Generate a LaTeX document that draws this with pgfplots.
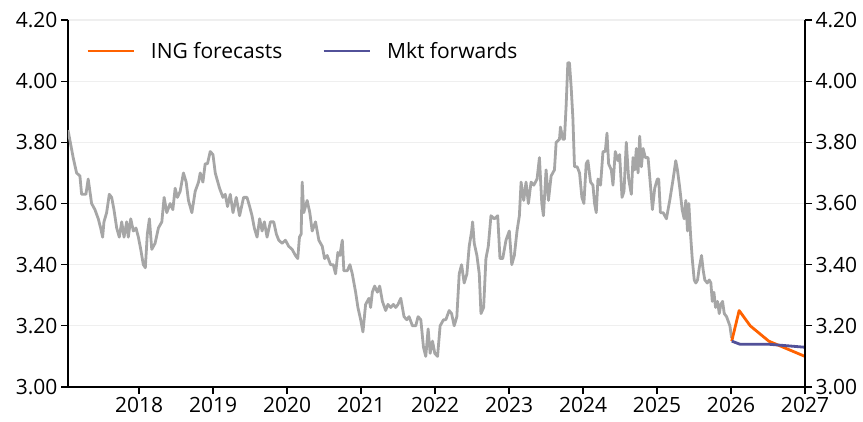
\documentclass[border=0pt]{standalone}
\usepackage{pgfplots}
\pgfplotsset{compat=1.18}
\usepackage{fontspec}
\setmainfont{Open Sans}
\definecolor{inggray}{HTML}{A6A6A6}
\definecolor{ingorange}{HTML}{FF6200}
\definecolor{ingblue}{HTML}{525199}
\definecolor{gridc}{HTML}{EFEFEF}
\begin{document}
\begin{tikzpicture}
\useasboundingbox (-68pt,-34pt) rectangle (795pt,387pt);
\pgfplotsset{
  base/.style={
    scale only axis, width=737pt, height=367pt,
    at={(0pt,0pt)}, anchor=south west,
    xmin=2017.04, xmax=2027, ymin=3, ymax=4.2,
    ytick={3,3.2,3.4,3.6,3.8,4.0,4.2},
    xtick={2018,2019,2020,2021,2022,2023,2024,2025,2026,2027},
    tick label style={font=\fontsize{21}{24}\selectfont},
    /pgf/number format/assume math mode=true,
    yticklabel style={/pgf/number format/.cd, fixed, fixed zerofill, precision=2},
    xticklabel style={/pgf/number format/1000 sep={}},
    tick align=outside, major tick length=7pt,
    tick style={black, line width=1.3pt},
    axis line style={black, line width=1.3pt},
  }
}
\begin{axis}[base, axis y line*=left, axis x line*=bottom,
  ymajorgrids, grid style={gridc, line width=1.2pt},
  legend style={draw=none, fill=none, at={(axis description cs:0,1)}, anchor=north west,
    xshift=15pt, yshift=-18pt,
    legend columns=2, font=\fontsize{21}{24}\selectfont,
    /tikz/every odd column/.append style={column sep=14pt},
    /tikz/every even column/.append style={column sep=38pt}},
  legend image code/.code={\draw[#1] (0pt,0pt) -- (46pt,0pt);},
  legend cell align=left,
]
\addplot[inggray, line width=2.8pt, line join=round, forget plot] coordinates {
(2017.040,3.84) (2017.110,3.75) (2017.156,3.70) (2017.201,3.69) (2017.224,3.63) (2017.282,3.63)
(2017.313,3.68) (2017.359,3.60) (2017.404,3.58) (2017.449,3.55) (2017.481,3.52) (2017.508,3.49)
(2017.526,3.54) (2017.562,3.57) (2017.598,3.63) (2017.630,3.62) (2017.661,3.58) (2017.698,3.52)
(2017.733,3.49) (2017.766,3.54) (2017.797,3.49) (2017.833,3.54) (2017.855,3.49) (2017.888,3.55)
(2017.923,3.51) (2017.959,3.52) (2017.991,3.49) (2018.023,3.45) (2018.058,3.40) (2018.085,3.39)
(2018.112,3.50) (2018.140,3.55) (2018.172,3.45) (2018.217,3.47) (2018.262,3.52) (2018.308,3.54)
(2018.339,3.62) (2018.375,3.57) (2018.420,3.60) (2018.457,3.58) (2018.488,3.65) (2018.519,3.62)
(2018.556,3.64) (2018.600,3.70) (2018.637,3.67) (2018.668,3.61) (2018.714,3.57) (2018.759,3.64)
(2018.804,3.67) (2018.827,3.70) (2018.863,3.67) (2018.894,3.73) (2018.925,3.73) (2018.962,3.77)
(2018.999,3.76) (2019.030,3.70) (2019.053,3.68) (2019.088,3.65) (2019.134,3.62) (2019.165,3.63)
(2019.196,3.59) (2019.233,3.63) (2019.270,3.57) (2019.314,3.62) (2019.359,3.56) (2019.413,3.62)
(2019.459,3.62) (2019.495,3.59) (2019.527,3.56) (2019.558,3.52) (2019.595,3.49) (2019.630,3.55)
(2019.663,3.51) (2019.694,3.54) (2019.730,3.49) (2019.775,3.54) (2019.820,3.54) (2019.856,3.50)
(2019.888,3.48) (2019.934,3.47) (2019.978,3.48) (2020.023,3.46) (2020.069,3.45) (2020.114,3.43)
(2020.145,3.42) (2020.168,3.49) (2020.191,3.50) (2020.205,3.67) (2020.226,3.57) (2020.272,3.61)
(2020.308,3.57) (2020.340,3.51) (2020.385,3.54) (2020.430,3.48) (2020.476,3.46) (2020.507,3.42)
(2020.543,3.43) (2020.588,3.40) (2020.625,3.40) (2020.656,3.37) (2020.687,3.44) (2020.714,3.43)
(2020.747,3.48) (2020.768,3.38) (2020.814,3.38) (2020.850,3.40) (2020.882,3.37) (2020.927,3.31)
(2020.958,3.26) (2020.995,3.22) (2021.026,3.18) (2021.062,3.27) (2021.107,3.29) (2021.130,3.26)
(2021.153,3.31) (2021.184,3.33) (2021.221,3.31) (2021.252,3.33) (2021.289,3.28) (2021.333,3.25)
(2021.364,3.27) (2021.401,3.26) (2021.438,3.27) (2021.469,3.26) (2021.500,3.27) (2021.537,3.29)
(2021.581,3.23) (2021.618,3.22) (2021.649,3.23) (2021.695,3.20) (2021.740,3.20) (2021.771,3.23)
(2021.808,3.22) (2021.844,3.13) (2021.875,3.10) (2021.907,3.19) (2021.934,3.11) (2021.966,3.15)
(2021.997,3.11) (2022.034,3.10) (2022.069,3.20) (2022.115,3.22) (2022.146,3.22) (2022.191,3.25)
(2022.224,3.24) (2022.259,3.20) (2022.295,3.23) (2022.327,3.37) (2022.359,3.40) (2022.394,3.34)
(2022.431,3.37) (2022.462,3.46) (2022.495,3.51) (2022.508,3.54) (2022.530,3.47) (2022.566,3.43)
(2022.598,3.37) (2022.621,3.24) (2022.657,3.26) (2022.688,3.42) (2022.720,3.46) (2022.756,3.56)
(2022.801,3.55) (2022.847,3.56) (2022.878,3.42) (2022.915,3.42) (2022.959,3.48) (2023.004,3.51)
(2023.037,3.40) (2023.072,3.43) (2023.108,3.51) (2023.140,3.56) (2023.163,3.67) (2023.199,3.61)
(2023.230,3.67) (2023.262,3.60) (2023.298,3.67) (2023.335,3.66) (2023.379,3.68) (2023.411,3.75)
(2023.443,3.60) (2023.465,3.56) (2023.501,3.71) (2023.533,3.61) (2023.569,3.69) (2023.614,3.71)
(2023.637,3.80) (2023.682,3.81) (2023.695,3.85) (2023.728,3.81) (2023.749,3.81) (2023.772,3.92)
(2023.795,4.06) (2023.817,4.06) (2023.840,3.98) (2023.863,3.88) (2023.885,3.72) (2023.921,3.72)
(2023.953,3.70) (2023.985,3.62) (2024.012,3.60) (2024.043,3.73) (2024.066,3.74) (2024.102,3.67)
(2024.134,3.66) (2024.156,3.60) (2024.179,3.57) (2024.202,3.68) (2024.237,3.66) (2024.270,3.77)
(2024.301,3.77) (2024.324,3.83) (2024.346,3.73) (2024.382,3.71) (2024.405,3.66) (2024.436,3.77)
(2024.473,3.74) (2024.495,3.76) (2024.527,3.62) (2024.554,3.64) (2024.585,3.80) (2024.617,3.68)
(2024.653,3.63) (2024.676,3.75) (2024.698,3.71) (2024.721,3.78) (2024.744,3.70) (2024.766,3.82)
(2024.789,3.72) (2024.812,3.78) (2024.843,3.75) (2024.879,3.75) (2024.915,3.65) (2024.938,3.58)
(2024.969,3.65) (2025.005,3.68) (2025.023,3.68) (2025.046,3.57) (2025.083,3.57) (2025.127,3.55)
(2025.172,3.61) (2025.218,3.68) (2025.236,3.71) (2025.253,3.74) (2025.276,3.71) (2025.308,3.65)
(2025.340,3.58) (2025.367,3.55) (2025.389,3.61) (2025.412,3.51) (2025.430,3.60) (2025.453,3.50)
(2025.476,3.42) (2025.503,3.35) (2025.525,3.34) (2025.548,3.35) (2025.571,3.39) (2025.602,3.43)
(2025.625,3.38) (2025.646,3.35) (2025.679,3.34) (2025.706,3.35) (2025.728,3.34) (2025.747,3.28)
(2025.769,3.31) (2025.791,3.26) (2025.818,3.28) (2025.841,3.24) (2025.863,3.27) (2025.886,3.28)
(2025.909,3.24) (2025.940,3.23) (2025.985,3.20) (2026.008,3.16)
};
\addplot[ingorange, line width=2.8pt, line join=round] coordinates {
(2026.01,3.15) (2026.11,3.25) (2026.26,3.20) (2026.51,3.15) (2027.00,3.10)
};
\addlegendentry{ING forecasts}
\addplot[ingblue, line width=2.8pt, line join=round] coordinates {
(2026.01,3.15) (2026.12,3.14) (2026.50,3.14) (2027.00,3.13)
};
\addlegendentry{Mkt forwards}
\end{axis}
\begin{axis}[base, axis y line*=right, axis x line=none]
\end{axis}
\end{tikzpicture}
\end{document}
